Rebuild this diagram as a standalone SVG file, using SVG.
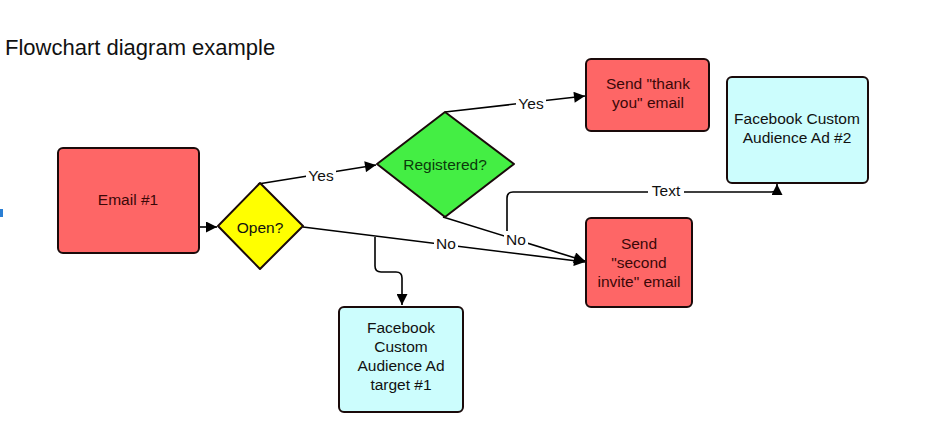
<svg xmlns="http://www.w3.org/2000/svg" width="945" height="435" viewBox="0 0 945 435">
<defs>
<marker id="arr" viewBox="0 0 10 10" refX="10" refY="5" markerWidth="12" markerHeight="11" markerUnits="userSpaceOnUse" orient="auto">
<path d="M0,0 L10,5 L0,10 z" fill="#000"/>
</marker>
<style>
.box{stroke:#1a0a0a;stroke-width:2}
.red{fill:#fe6666}
.cyan{fill:#ccfdfd}
.t{font-family:"Liberation Sans",Arial,sans-serif;font-size:15.5px;text-anchor:middle;dominant-baseline:central}
.tr{fill:#3a0808}
.tc{fill:#111}
.ln{fill:none;stroke:#000;stroke-width:1.6}
.lbl{font-family:"Liberation Sans",Arial,sans-serif;font-size:15.5px;text-anchor:middle;dominant-baseline:central;fill:#111}
.lb{fill:#fff}
</style>
</defs>
<rect width="945" height="435" fill="#fff"/>
<rect x="0" y="209" width="3" height="8" fill="#2a7fd4"/>
<text x="5" y="55" style="font-family:'Liberation Sans',Arial,sans-serif;font-size:22px;fill:#111">Flowchart diagram example</text>

<g id="connectors">
<line class="ln" x1="199" y1="227" x2="217" y2="227" marker-end="url(#arr)"/>
<path class="ln" d="M258,184 L376,165" marker-end="url(#arr)"/>
<rect class="lb" x="306" y="167" width="30" height="16"/>
<text class="lbl" x="321" y="175">Yes</text>
<path class="ln" d="M445,112 L585,96" marker-end="url(#arr)"/>
<rect class="lb" x="516" y="95" width="30" height="16"/>
<text class="lbl" x="531" y="103">Yes</text>
<path class="ln" d="M303,227 L585,262" marker-end="url(#arr)"/>
<path class="ln" d="M443,217 L585,261" marker-end="url(#arr)"/>
<path class="ln" d="M375,237 L375,266 Q375,272 381,272 L396,272 Q402,272 402,278 L402,305" marker-end="url(#arr)"/>
<path class="ln" d="M507,238 L507,198 Q507,192 513,192 L771,192 Q777,192 777,188 L777,184" marker-end="url(#arr)"/>
<rect class="lb" x="434" y="235" width="24" height="16"/>
<text class="lbl" x="446" y="243">No</text>
<rect class="lb" x="504" y="231" width="24" height="16"/>
<text class="lbl" x="516" y="239">No</text>
<rect class="lb" x="648" y="182" width="36" height="16"/>
<text class="lbl" x="666" y="190">Text</text>
</g>

<g id="email1">
<rect class="box red" x="58" y="148" width="141" height="105" rx="5"/>
<text class="t tr" x="128" y="199">Email #1</text>
</g>
<g id="open">
<path class="box" d="M260,183 L303,226 L260,269 L218,226 Z" fill="#ffff00" stroke-linejoin="round"/>
<text class="t tc" x="260" y="227">Open?</text>
</g>
<g id="registered">
<path class="box" d="M445,112 L514,164 L445,217 L377,164 Z" fill="#44ee44" stroke-linejoin="round"/>
<text class="t" x="445" y="164" fill="#0b3a0b">Registered?</text>
</g>
<g id="thankyou">
<rect class="box red" x="586" y="59" width="123" height="72" rx="5"/>
<text class="t tr" x="648" y="83">Send "thank</text>
<text class="t tr" x="648" y="102">you" email</text>
</g>
<g id="secondinvite">
<rect class="box red" x="586" y="218" width="106" height="89" rx="5"/>
<text class="t tr" x="639" y="243">Send</text>
<text class="t tr" x="639" y="262">"second</text>
<text class="t tr" x="639" y="281">invite" email</text>
</g>
<g id="fbad2">
<rect class="box cyan" x="727" y="77" width="141" height="106" rx="5"/>
<text class="t tc" x="797" y="118">Facebook Custom</text>
<text class="t tc" x="797" y="137">Audience Ad #2</text>
</g>
<g id="fbad1">
<rect class="box cyan" x="339" y="307" width="124" height="105" rx="5"/>
<text class="t tc" x="401" y="327">Facebook</text>
<text class="t tc" x="401" y="346">Custom</text>
<text class="t tc" x="401" y="365">Audience Ad</text>
<text class="t tc" x="401" y="384">target #1</text>
</g>
</svg>
